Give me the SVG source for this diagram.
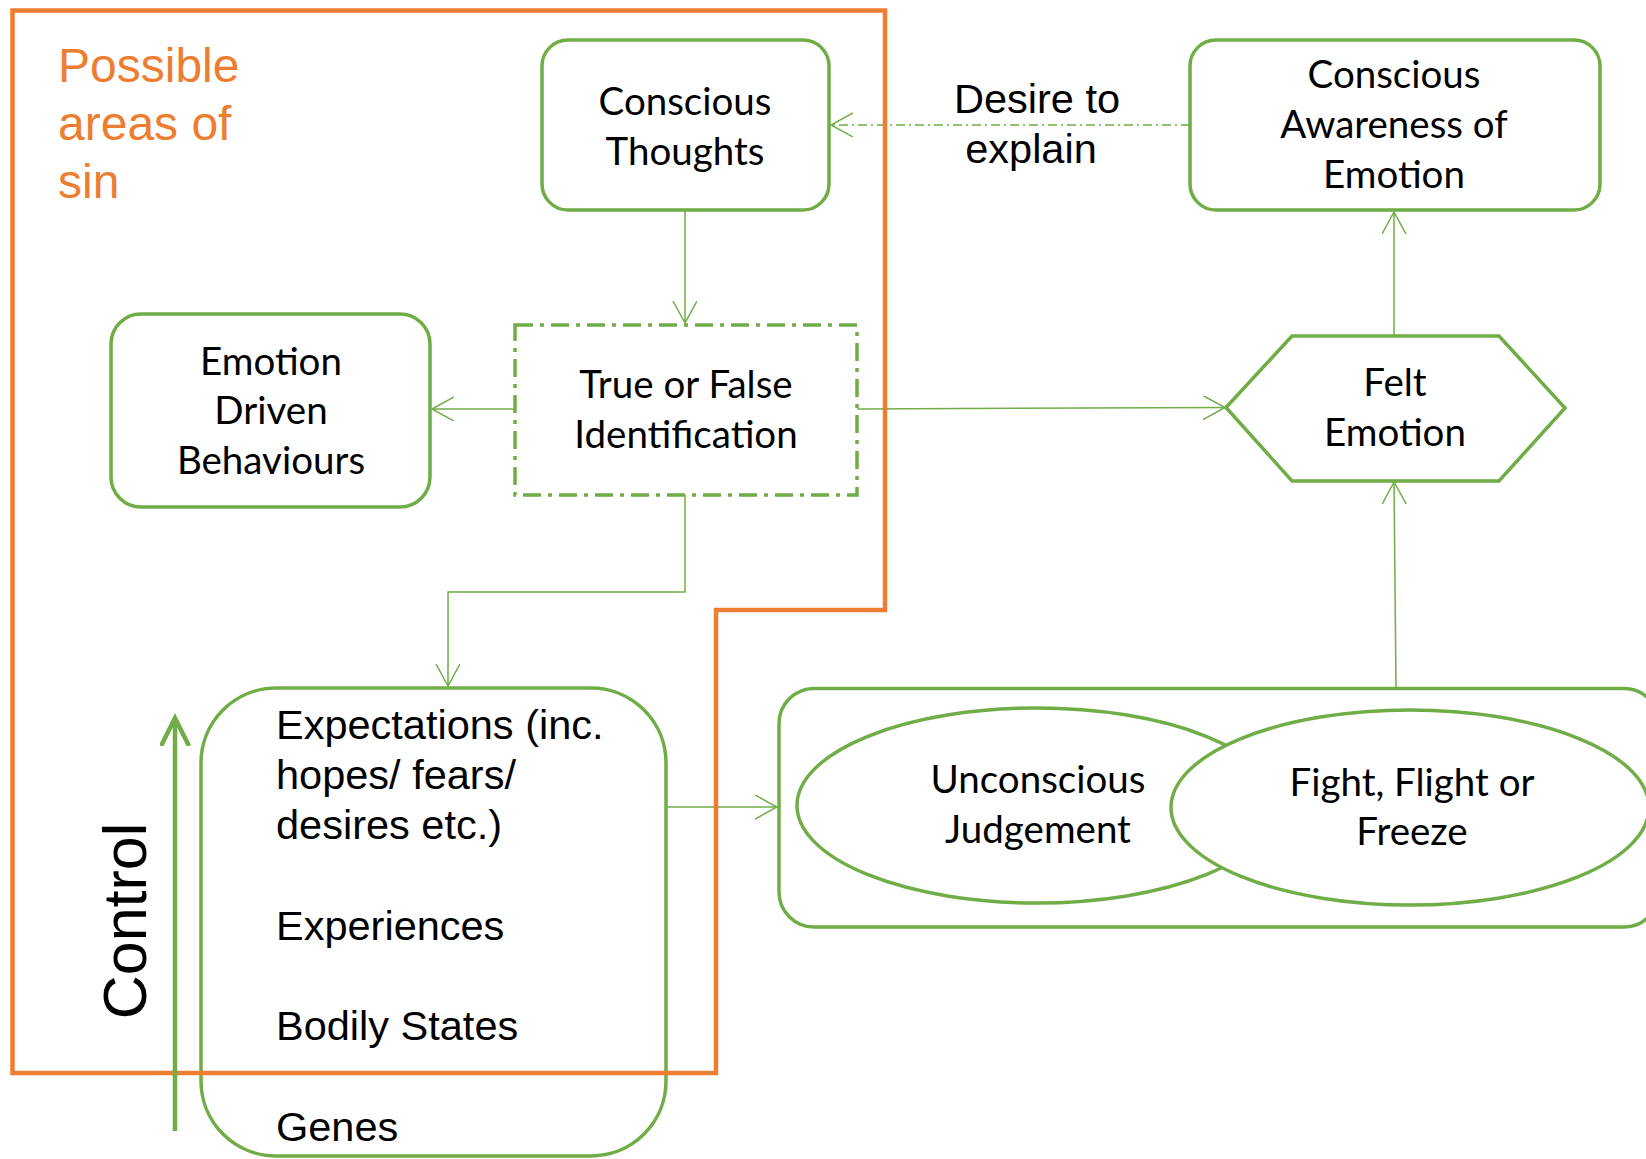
<svg xmlns="http://www.w3.org/2000/svg" width="1646" height="1159" viewBox="0 0 1646 1159">
<style>
.node{fill:#fff;stroke:#70AD47;stroke-width:3.5}
.t{font-family:Lato,"Open Sans",sans-serif;font-size:38.5px;fill:#000;text-anchor:middle}
.a{font-family:"Liberation Sans",Arial,sans-serif;font-size:41.5px;fill:#000}
.c{fill:none;stroke:#70AD47;stroke-width:1.5}
</style>
<defs>
<marker id="arr" markerUnits="userSpaceOnUse" markerWidth="30" markerHeight="30" refX="22" refY="12" orient="auto" viewBox="0 0 30 30">
<path d="M0 0 L22 12 L0 24" fill="none" stroke="#70AD47" stroke-width="1.5"/>
</marker>
<marker id="arrBig" markerUnits="userSpaceOnUse" markerWidth="40" markerHeight="40" refX="28" refY="15" orient="auto" viewBox="0 0 40 40">
<path d="M0 1 L28 15 L0 29" fill="none" stroke="#70AD47" stroke-width="4.5"/>
</marker>
</defs>
<rect width="1646" height="1159" fill="#fff"/>
<g id="connectors">
<path class="c" d="M685 211 V323" marker-end="url(#arr)"/>
<path class="c" d="M515 409 H432" marker-end="url(#arr)"/>
<path class="c" d="M857 409 L1225 407.5" marker-end="url(#arr)"/>
<path class="c" d="M1394 336 V212" marker-end="url(#arr)"/>
<path class="c" d="M1396 688 L1394 482" marker-end="url(#arr)"/>
<path class="c" d="M1190 125 H831" stroke-dasharray="9 4 2 4" marker-end="url(#arr)"/>
<path class="c" d="M685 495 V592 H448 V686" marker-end="url(#arr)"/>
<path class="c" d="M666 807 H777" marker-end="url(#arr)"/>
</g>
<g id="conscious-thoughts">
<rect class="node" x="542" y="40" width="287" height="170" rx="26"/>
<text class="t" x="685" y="115">Conscious</text>
<text class="t" x="685" y="165">Thoughts</text>
</g>
<g id="emotion-driven-behaviours">
<rect class="node" x="111" y="314" width="319" height="193" rx="30"/>
<text class="t" x="271" y="375">Emotion</text>
<text class="t" x="271" y="424">Driven</text>
<text class="t" x="271" y="474">Behaviours</text>
</g>
<g id="true-false-identification">
<rect class="node" x="515" y="325" width="342" height="170" stroke-dasharray="18 7 4 7"/>
<text class="t" x="686" y="398">True or False</text>
<text class="t" x="686" y="448">Identification</text>
</g>
<g id="conscious-awareness">
<rect class="node" x="1190" y="40" width="410" height="170" rx="26"/>
<text class="t" x="1394" y="88">Conscious</text>
<text class="t" x="1394" y="138">Awareness of</text>
<text class="t" x="1394" y="188">Emotion</text>
</g>
<g id="desire-label">
<text class="a" x="1037" y="113" text-anchor="middle">Desire to</text>
<text class="a" x="1031" y="163" text-anchor="middle">explain</text>
</g>
<g id="felt-emotion">
<polygon class="node" points="1226,407.5 1292,336 1499,336 1565,408 1499,481 1292,481"/>
<text class="t" x="1395" y="396">Felt</text>
<text class="t" x="1395" y="446">Emotion</text>
</g>
<g id="unconscious-group">
<rect class="node" x="779" y="688.5" width="880" height="238.5" rx="35"/>
<g id="unconscious-judgement">
<ellipse class="node" cx="1037" cy="805.5" rx="240" ry="97.5"/>
<text class="t" x="1038" y="793">Unconscious</text>
<text class="t" x="1038" y="843">Judgement</text>
</g>
<g id="fight-flight-freeze">
<ellipse class="node" cx="1410" cy="807.5" rx="239" ry="97.5"/>
<text class="t" x="1412" y="796">Fight, Flight or</text>
<text class="t" x="1412" y="845">Freeze</text>
</g>
</g>
<g id="expectations">
<rect class="node" x="201" y="688" width="465" height="468" rx="75"/>
<text class="a" x="276" y="739">Expectations (inc.</text>
<text class="a" x="276" y="789">hopes/ fears/</text>
<text class="a" x="276" y="839">desires etc.)</text>
<text class="a" x="276" y="940">Experiences</text>
<text class="a" x="276" y="1040">Bodily States</text>
<text class="a" x="276" y="1141">Genes</text>
</g>
<g id="sin-area">
<path d="M12.5 10.5 H885 V610 H716 V1073 H12.5 Z" fill="none" stroke="#ED7D31" stroke-width="4.5"/>
<text x="58" y="82" font-family="Liberation Sans, Arial, sans-serif" font-size="48" fill="#ED7D31">Possible</text>
<text x="58" y="140" font-family="Liberation Sans, Arial, sans-serif" font-size="48" fill="#ED7D31">areas of</text>
<text x="58" y="198" font-family="Liberation Sans, Arial, sans-serif" font-size="48" fill="#ED7D31">sin</text>
</g>
<g id="control">
<path d="M175 1131 V718" fill="none" stroke="#70AD47" stroke-width="4.5" marker-end="url(#arrBig)"/>
<text x="146" y="921" transform="rotate(-90 146 921)" text-anchor="middle" font-family="Liberation Sans, Arial, sans-serif" font-size="61" fill="#000">Control</text>
</g>
</svg>
